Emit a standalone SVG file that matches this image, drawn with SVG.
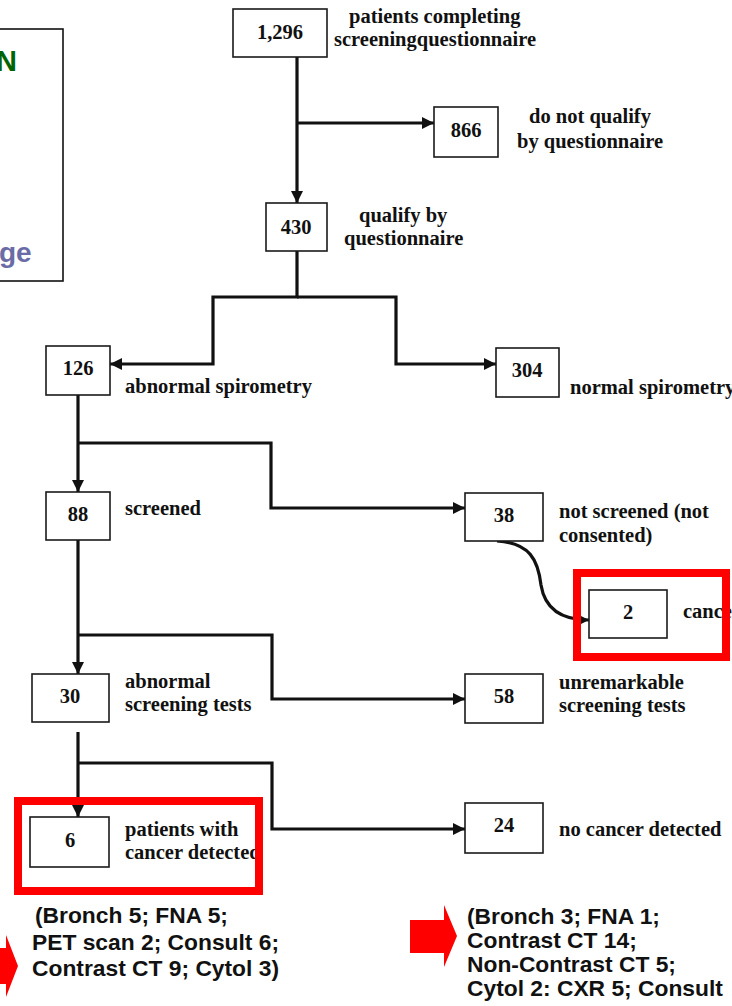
<svg xmlns="http://www.w3.org/2000/svg" width="732" height="1006" viewBox="0 0 732 1006">
<style>
.bx{fill:#fff;stroke:#1a1a1a;stroke-width:1.6}
.num{font-family:"Liberation Serif",serif;font-weight:bold;font-size:20.5px;fill:#111;text-anchor:middle}
.lb{font-family:"Liberation Serif",serif;font-weight:bold;font-size:20.5px;fill:#111}
.ln{fill:none;stroke:#111;stroke-width:3.2}
.red{fill:none;stroke:#ff0000;stroke-width:8}
.note{font-family:"Liberation Sans",Arial,sans-serif;font-weight:bold;font-size:22.8px;fill:#111}
</style>
<defs>
<marker id="ah" viewBox="0 0 10 10" refX="10" refY="5" markerWidth="13" markerHeight="12" markerUnits="userSpaceOnUse" orient="auto">
<path d="M0,0 L10,5 L0,10 z" fill="#111"/>
</marker>
</defs>
<rect width="732" height="1006" fill="#fff"/>

<g id="legend">
<rect x="-5" y="29" width="68" height="252" fill="#fff" stroke="#111" stroke-width="1.6"/>
<text x="-4" y="71" font-family="Liberation Sans,Arial,sans-serif" font-weight="bold" font-size="29" fill="#006400">N</text>
<text x="-1" y="262" font-family="Liberation Sans,Arial,sans-serif" font-weight="bold" font-size="28" fill="#6b6ba6">ge</text>
</g>

<g id="connectors">
<path class="ln" d="M297,57 V203" marker-end="url(#ah)"/>
<path class="ln" d="M297,123 H434" marker-end="url(#ah)"/>
<path class="ln" d="M297,251 V297 H213 V364 H110" marker-end="url(#ah)"/>
<path class="ln" d="M297,297 H396 V364 H496" marker-end="url(#ah)"/>
<path class="ln" d="M78,395 V492" marker-end="url(#ah)"/>
<path class="ln" d="M78,443 H271 V508 H465" marker-end="url(#ah)"/>
<path class="ln" d="M497,541 C530,543 538,560 541,585 C545,610 562,620 589,620" marker-end="url(#ah)"/>
<path class="ln" d="M78,540 V674" marker-end="url(#ah)"/>
<path class="ln" d="M78,635 H272 V699 H465" marker-end="url(#ah)"/>
<path class="ln" d="M78,732 V817" marker-end="url(#ah)"/>
<path class="ln" d="M78,763 H272 V829 H465" marker-end="url(#ah)"/>
</g>

<g id="n1296">
<rect class="bx" x="233" y="9" width="94" height="48"/>
<text class="num" x="280" y="39">1,296</text>
<text class="lb" x="349" y="23">patients completing</text>
<text class="lb" x="334" y="46">screeningquestionnaire</text>
</g>
<g id="n866">
<rect class="bx" x="434" y="107" width="64" height="50"/>
<text class="num" x="466" y="137">866</text>
<text class="lb" x="590" y="123" text-anchor="middle">do not qualify</text>
<text class="lb" x="590" y="148" text-anchor="middle">by questionnaire</text>
</g>
<g id="n430">
<rect class="bx" x="266" y="203" width="61" height="48"/>
<text class="num" x="296" y="234">430</text>
<text class="lb" x="359" y="222">qualify by</text>
<text class="lb" x="344" y="245">questionnaire</text>
</g>
<g id="n126">
<rect class="bx" x="46" y="346" width="64" height="49"/>
<text class="num" x="78" y="375">126</text>
<text class="lb" x="125" y="393">abnormal spirometry</text>
</g>
<g id="n304">
<rect class="bx" x="496" y="348" width="63" height="49"/>
<text class="num" x="527" y="377">304</text>
<text class="lb" x="570" y="394">normal spirometry</text>
</g>
<g id="n88">
<rect class="bx" x="46" y="492" width="64" height="48"/>
<text class="num" x="78" y="521">88</text>
<text class="lb" x="125" y="515">screened</text>
</g>
<g id="n38">
<rect class="bx" x="465" y="493" width="78" height="48"/>
<text class="num" x="504" y="522">38</text>
<text class="lb" x="559" y="518">not screened (not</text>
<text class="lb" x="559" y="542">consented)</text>
</g>
<g id="n2">
<rect class="bx" x="589" y="590" width="78" height="48"/>
<text class="num" x="628" y="619">2</text>
<text class="lb" x="683" y="618">cancer</text>
<rect class="red" x="577" y="573" width="149" height="84"/>
</g>
<g id="n30">
<rect class="bx" x="32" y="674" width="77" height="48"/>
<text class="num" x="70" y="703">30</text>
<text class="lb" x="125" y="688">abnormal</text>
<text class="lb" x="125" y="711">screening tests</text>
</g>
<g id="n58">
<rect class="bx" x="465" y="674" width="78" height="49"/>
<text class="num" x="504" y="703">58</text>
<text class="lb" x="559" y="689">unremarkable</text>
<text class="lb" x="559" y="712">screening tests</text>
</g>
<g id="n6">
<rect class="bx" x="30" y="817" width="79" height="50"/>
<text class="num" x="70" y="847">6</text>
<text class="lb" x="125" y="836">patients with</text>
<text class="lb" x="125" y="859">cancer detected</text>
<rect class="red" x="18" y="801" width="241" height="90"/>
</g>
<g id="n24">
<rect class="bx" x="465" y="803" width="78" height="50"/>
<text class="num" x="504" y="832">24</text>
<text class="lb" x="559" y="836">no cancer detected</text>
</g>

<g id="note-left">
<polygon points="-20,948 6,948 6,935 18,966 6,997 6,984 -20,984" fill="#ff0000"/>
<text class="note" x="35" y="923">(Bronch 5; FNA 5;</text>
<text class="note" x="32" y="950">PET scan 2; Consult 6;</text>
<text class="note" x="32" y="976">Contrast CT 9; Cytol 3)</text>
</g>
<g id="note-right">
<polygon points="410,920 444,920 444,905 457,936 444,967 444,953 410,953" fill="#ff0000"/>
<text class="note" x="467" y="924">(Bronch 3; FNA 1;</text>
<text class="note" x="467" y="948">Contrast CT 14;</text>
<text class="note" x="467" y="972">Non-Contrast CT 5;</text>
<text class="note" x="467" y="996">Cytol 2: CXR 5; Consult</text>
</g>
</svg>
